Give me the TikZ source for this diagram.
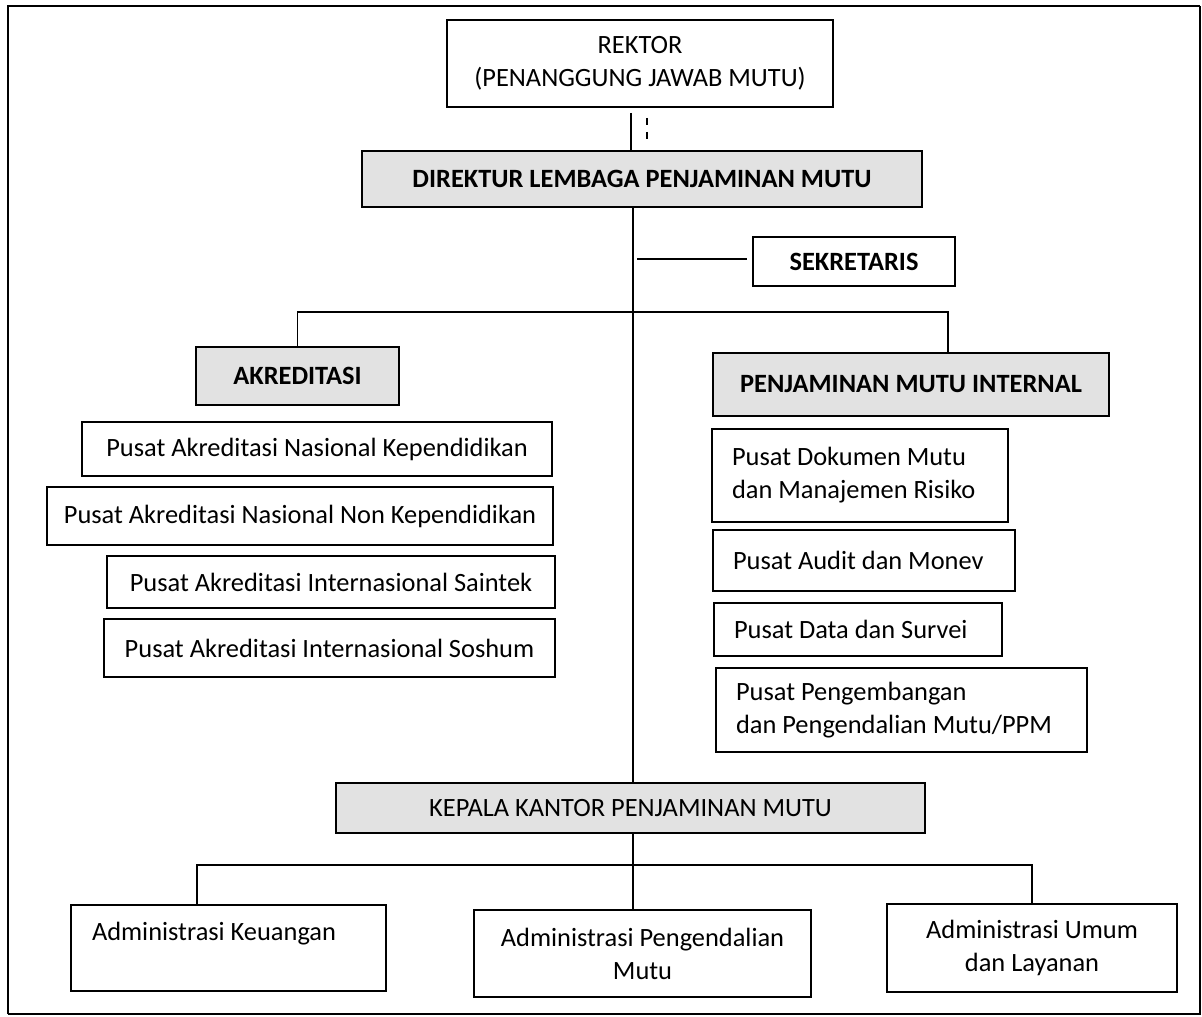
\documentclass[tikz,border=0pt]{standalone}
\usepackage{fontspec}
\setmainfont{Carlito}
\usetikzlibrary{calc}
\definecolor{boxgray}{HTML}{E2E2E2}

\begin{document}
\begin{tikzpicture}[x=0.5pt,y=-0.5pt,
	unit/.style={draw,line width=1pt,align=center,inner sep=0pt,font=\fontsize{13.2}{16.5}\selectfont},
	head/.style={unit,fill=boxgray},
	boldhead/.style={head,font=\fontsize{13.2}{16.5}\selectfont\bfseries},
	listbox/.style={unit,align=flush left,inner xsep=10pt},
	link/.style={line width=0.75pt}]
	\useasboundingbox (0,0) rectangle (1202,1016);
	\draw[line width=1.4pt] (8,1014) -- (8,6) -- (1200,6);
	\draw[line width=0.8pt] (1200,6) -- (1200,1014) -- (8,1014);
	
	\node[unit, minimum width=193pt, minimum height=43.5pt] (rektor) at (640,63.5) {REKTOR\\(PENANGGUNG JAWAB MUTU)};
	\node[boldhead, minimum width=280pt, minimum height=28pt] (direktur) at (642,179) {DIREKTUR LEMBAGA PENJAMINAN MUTU};
	\node[unit, font=\fontsize{13.2}{16.5}\selectfont\bfseries, minimum width=101pt, minimum height=24.5pt] (sekretaris) at (854,261.5) {SEKRETARIS};
	\node[boldhead, minimum width=101.5pt, minimum height=29pt] (akreditasi) at (297.5,376) {AKREDITASI};
	\node[boldhead, minimum width=198pt, minimum height=31.5pt] (pmi) at (911,384.5) {PENJAMINAN MUTU INTERNAL};
	
	\node[unit, minimum width=235pt, minimum height=27pt] (aknas) at (317,449) {Pusat Akreditasi Nasional Kependidikan};
	\node[unit, minimum width=253pt, minimum height=29pt] (aknon) at (300,516) {Pusat Akreditasi Nasional Non Kependidikan};
	\node[unit, minimum width=224pt, minimum height=26pt] (aksaintek) at (331,582) {Pusat Akreditasi Internasional Saintek};
	\node[unit, minimum width=225.5pt, minimum height=29pt] (aksoshum) at (329.5,648) {Pusat Akreditasi Internasional Soshum};
	
	\node[listbox, text width=128pt, minimum height=46.5pt] (dokumen) at (860,475.5) {Pusat Dokumen Mutu\\dan Manajemen Risiko};
	\node[listbox, text width=131pt, minimum height=30.5pt] (audit) at (864,560.5) {Pusat Audit dan Monev};
	\node[listbox, text width=124pt, minimum height=26.5pt] (survei) at (858,629.5) {Pusat Data dan Survei};
	\node[listbox, text width=165.5pt, minimum height=42pt] (ppm) at (901.5,710) {Pusat Pengembangan\\dan Pengendalian Mutu/PPM};
	
	\node[head, minimum width=294.5pt, minimum height=25pt] (kepala) at (630.5,808) {KEPALA KANTOR PENJAMINAN MUTU};
	\node[listbox, inner xsep=10.5pt, text width=136.5pt, minimum height=43pt] (keuangan) at (228.5,948) {Administrasi Keuangan\\\mbox{}};
	\node[unit, minimum width=168.5pt, minimum height=43.5pt] (admmutu) at (642.5,953.5) {Administrasi Pengendalian\\Mutu};
	\node[unit, minimum width=145pt, minimum height=44pt] (umum) at (1032,948) {Administrasi Umum\\dan Layanan};
	
	\draw[link] ($(rektor.south)+(-9,5)$) -- ($(rektor.south |- direktur.north)+(-9,0)$);
	\draw[link, dash pattern=on 3.5pt off 3.5pt] ($(rektor.south)+(7,10)$) -- ++(0,21);
	\draw[link] ($(direktur.south)+(-9,0)$) coordinate (spine) -- (spine |- kepala.north);
	\draw[link] ($(spine |- sekretaris.west)+(4,-2.5)$) -- ($(sekretaris.west)+(-5,-2.5)$);
	\coordinate (pmitop) at ($(pmi.north)+(37,0)$);
	\draw[link] (akreditasi.north) -- ++(0,-34) -| (pmitop);
	\draw[link] (spine |- kepala.south) -- (spine |- admmutu.north);
	\draw[link] ($(keuangan.north)+(-31.5,0)$) -- ++(0,-39) -| (umum.north);
\end{tikzpicture}
\end{document}
